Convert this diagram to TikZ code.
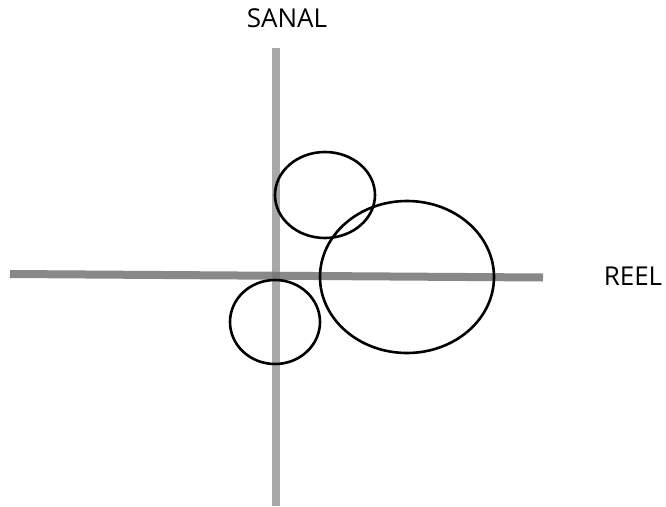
\documentclass[tikz,border=0pt]{standalone}
\usepackage{fontspec}
\setmainfont{Open Sans}
\usetikzlibrary{shapes.geometric}
\begin{document}
\begin{tikzpicture}[x=1pt,y=-1pt,
  haxis/.style={line width=8pt,draw=black!55,opacity=0.85},
  vaxis/.style={line width=8pt,draw=black!40,opacity=0.85},
  circ/.style={draw=black,line width=2.6pt,ellipse,inner sep=0pt,outer sep=0pt},
  lbl/.style={font=\fontsize{26}{30}\selectfont,inner sep=0pt}]
\useasboundingbox (0,0) rectangle (666,506);
\coordinate (vtop) at (276,48);
\coordinate (vbot) at (276,506);
\coordinate (hl) at (10,274);
\coordinate (hr) at (543,277.5);
\draw[vaxis] (vtop) -- (vbot);
\draw[haxis] (hl) -- (hr);
\node[circ,minimum width=100pt,minimum height=86pt] (e1) at (325,195) {};
\node[circ,minimum width=174pt,minimum height=152pt] (e2) at (407,277) {};
\node[circ,minimum width=90pt,minimum height=84pt] (e3) at (275,322) {};
\node[lbl] (sanal) at (287,18) {SANAL};
\node[lbl] (reel) at (633,276) {REEL};
\end{tikzpicture}
\end{document}
